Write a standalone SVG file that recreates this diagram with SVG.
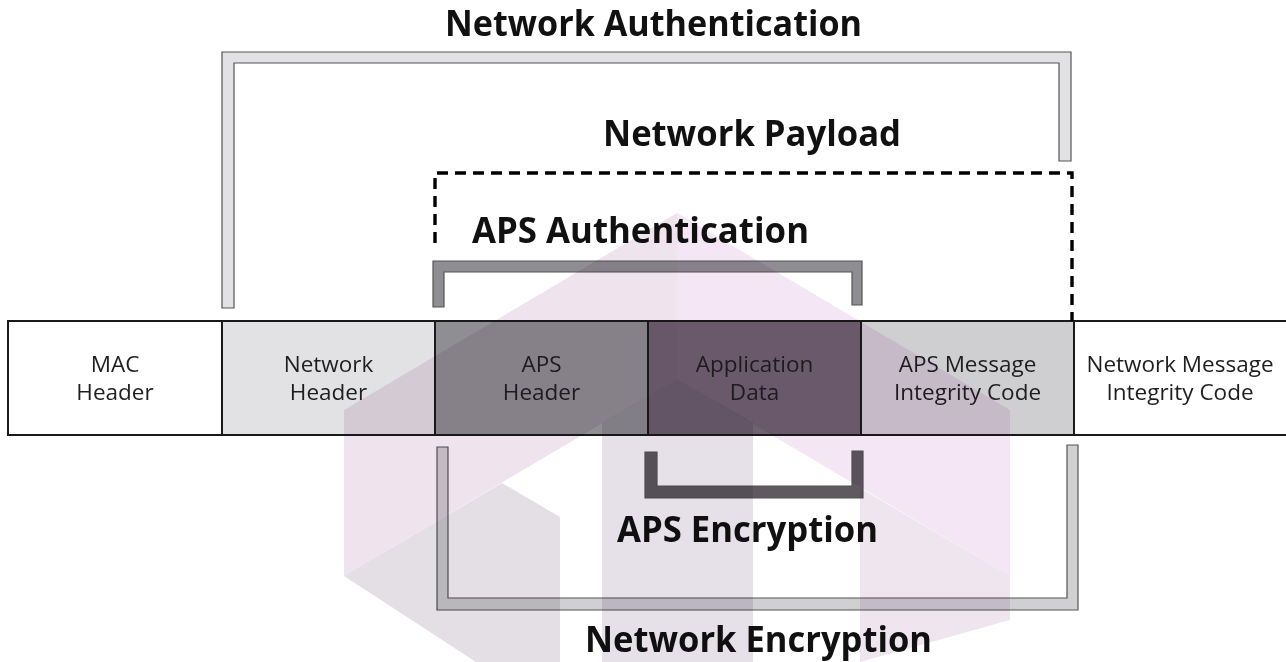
<svg xmlns="http://www.w3.org/2000/svg" width="1286" height="662" viewBox="0 0 1286 662">
<style>
.cell{stroke:#1a1a1a;stroke-width:2}
.lbl{font-family:"Open Sans","Liberation Sans",sans-serif;font-size:22.5px;fill:#1e1e1e;text-anchor:middle}
.ttl{font-family:"Open Sans","Liberation Sans",sans-serif;font-size:35px;font-weight:700;fill:#111;text-anchor:middle}
.br{stroke:#555;stroke-width:1.2;stroke-linejoin:miter}
.wm{mix-blend-mode:multiply}
</style>
<rect width="1286" height="662" fill="#fff"/>
<g id="mac-header">
<rect class="cell" x="8" y="321" width="214" height="114" fill="#ffffff"/>
<text class="lbl" x="115" y="372">MAC</text><text class="lbl" x="115" y="400">Header</text>
</g>
<g id="network-header">
<rect class="cell" x="222" y="321" width="213" height="114" fill="#e2e2e4"/>
<text class="lbl" x="328.5" y="372">Network</text><text class="lbl" x="328.5" y="400">Header</text>
</g>
<g id="aps-header">
<rect class="cell" x="435" y="321" width="213" height="114" fill="#8f8f93"/>
<text class="lbl" x="541.5" y="372">APS</text><text class="lbl" x="541.5" y="400">Header</text>
</g>
<g id="application-data">
<rect class="cell" x="648" y="321" width="213" height="114" fill="#6f6170"/>
<text class="lbl" x="754.5" y="372">Application</text><text class="lbl" x="754.5" y="400">Data</text>
</g>
<g id="aps-mic">
<rect class="cell" x="861" y="321" width="213" height="114" fill="#cfcfd1"/>
<text class="lbl" x="967.5" y="372">APS Message</text><text class="lbl" x="967.5" y="400">Integrity Code</text>
</g>
<g id="network-mic">
<rect class="cell" x="1074" y="321" width="214" height="114" fill="#ffffff"/>
<text class="lbl" x="1180" y="372">Network Message</text><text class="lbl" x="1180" y="400">Integrity Code</text>
</g>
<g id="connectors">
<path id="network-authentication-bracket" class="br" fill="#e2e2e4" d="M222,308 V52 H1071 V161 H1059 V63 H234 V308 Z"/>
<path id="aps-authentication-bracket" class="br" fill="#8e8e92" d="M433,307 V261 H862 V305 H852 V272 H444 V307 Z"/>
<path id="network-payload-span" fill="none" stroke="#000" stroke-width="3.4" stroke-dasharray="11 7" d="M435,243 V173 H1072 V321"/>
<path id="aps-encryption-bracket" class="br" fill="#5e5a60" stroke="#333" d="M645,452 V498 H863 V451 H852 V486 H657 V452 Z"/>
<path id="network-encryption-bracket" class="br" fill="#d0d0d2" d="M437,447 V610 H1078 V445 H1067 V598 H448 V447 Z"/>
</g>
<g id="title-network-authentication"><text class="ttl" x="653.5" y="36" textLength="417" lengthAdjust="spacingAndGlyphs">Network Authentication</text></g>
<g id="title-network-payload"><text class="ttl" x="752" y="146" textLength="298" lengthAdjust="spacingAndGlyphs">Network Payload</text></g>
<g id="title-aps-authentication"><text class="ttl" x="640.5" y="243" textLength="337" lengthAdjust="spacingAndGlyphs">APS Authentication</text></g>
<g id="title-aps-encryption"><text class="ttl" x="747.5" y="542" textLength="261" lengthAdjust="spacingAndGlyphs">APS Encryption</text></g>
<g id="title-network-encryption"><text class="ttl" x="758.5" y="652" textLength="347" lengthAdjust="spacingAndGlyphs">Network Encryption</text></g>
<g id="watermark">
<polygon class="wm" fill="#efe4ee" points="677,213 344,410 344,576 677,379"/>
<polygon class="wm" fill="#f4e6f4" points="677,213 1010,410 1010,576 677,379"/>
<polygon class="wm" fill="#e3dfe5" points="344,576 502,483 560,517 560,662 476,662"/>
<polygon class="wm" fill="#e6e0e8" points="602,423 677,379 753,423 753,662 602,662"/>
<polygon class="wm" fill="#efe5ef" points="860,488 1010,576 1010,620 860,662"/>
</g>
</svg>
